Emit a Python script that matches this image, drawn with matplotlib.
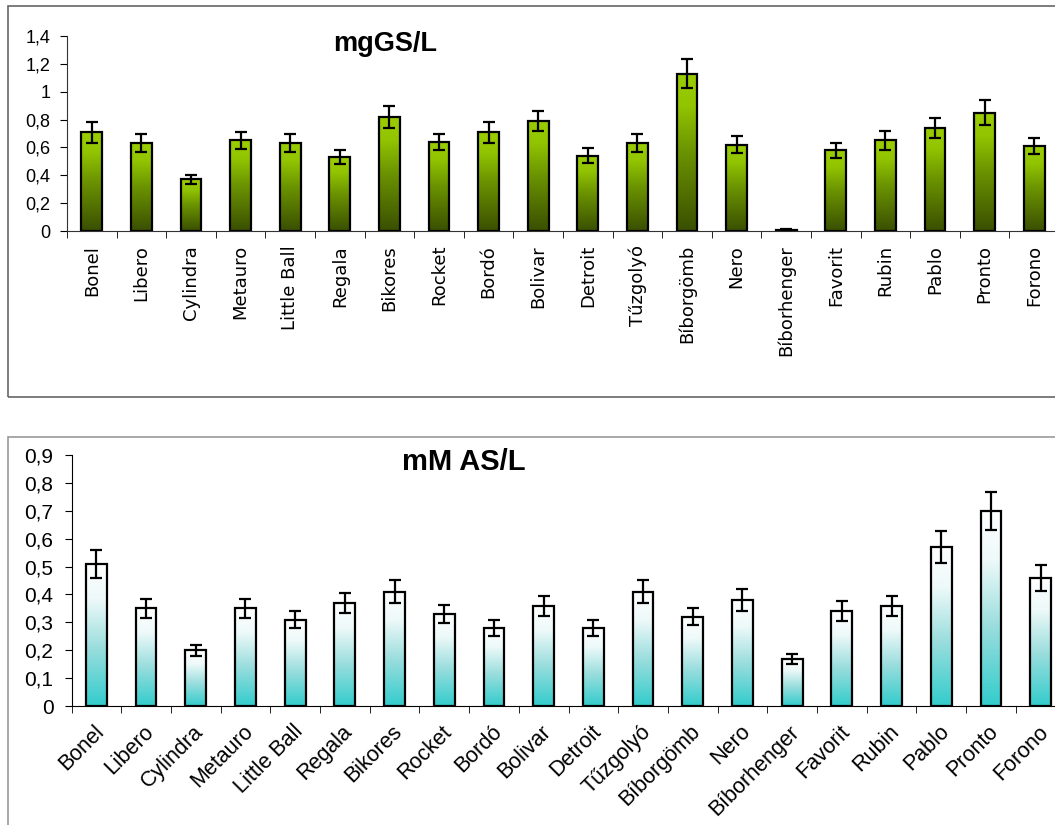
import matplotlib
matplotlib.use("Agg")
import matplotlib.pyplot as plt
import matplotlib.transforms as mtransforms
from matplotlib.colors import LinearSegmentedColormap
from matplotlib.patches import Rectangle
from matplotlib.ticker import FuncFormatter
import numpy as np

plt.rcParams['font.family'] = ['Liberation Sans', 'DejaVu Sans']

varieties = ["Bonel", "Libero", "Cylindra", "Metauro", "Little Ball", "Regala",
             "Bikores", "Rocket", "Bordó", "Bolivar", "Detroit", "Tűzgolyó",
             "Bíborgömb", "Nero", "Bíborhenger", "Favorit", "Rubin", "Pablo",
             "Pronto", "Forono"]

# glucosinolates, mg/L
gs_mean = [0.71, 0.63, 0.37, 0.65, 0.63, 0.53, 0.82, 0.64, 0.71, 0.79,
           0.54, 0.63, 1.13, 0.62, 0.01, 0.58, 0.65, 0.74, 0.85, 0.61]
gs_err = [0.075, 0.065, 0.035, 0.06, 0.065, 0.05, 0.08, 0.06, 0.075, 0.07,
          0.055, 0.065, 0.105, 0.06, 0.005, 0.055, 0.065, 0.07, 0.09, 0.055]

# ascorbic acid, mM/L
as_mean = [0.51, 0.35, 0.20, 0.35, 0.31, 0.37, 0.41, 0.33, 0.28, 0.36,
           0.28, 0.41, 0.32, 0.38, 0.17, 0.34, 0.36, 0.57, 0.70, 0.46]
as_err = [0.05, 0.035, 0.02, 0.035, 0.03, 0.036, 0.042, 0.032, 0.028, 0.036,
          0.03, 0.042, 0.031, 0.038, 0.018, 0.035, 0.036, 0.057, 0.068, 0.046]

green = LinearSegmentedColormap.from_list(
    "green", [(0, "#3a4f00"), (0.5, "#6b9300"), (0.8, "#92c500"), (1, "#9acd00")])
teal = LinearSegmentedColormap.from_list(
    "teal", [(0, "#33cccc"), (0.4, "#99dddd"), (0.75, "#eef9f9"), (1, "#ffffff")])

W, H = 1055, 825
fig = plt.figure(figsize=(W / 100, H / 100), dpi=100)


def comma(v, pos):
    return ("%g" % v).replace(".", ",")


def gradient_bars(ax, means, errs, cmap):
    x = np.arange(len(means))
    bars = ax.bar(x, means, width=0.42, facecolor="none", edgecolor="black",
                  linewidth=1.6, zorder=3)
    grad = np.linspace(1, 0, 256).reshape(-1, 1)
    for b in bars:
        x0, w, h = b.get_x(), b.get_width(), b.get_height()
        ax.imshow(grad, extent=[x0, x0 + w, 0, h], cmap=cmap, vmin=0, vmax=1,
                  aspect="auto", origin="upper", zorder=2, interpolation="bilinear")
    ax.errorbar(x, means, yerr=errs, fmt="none", ecolor="black", elinewidth=1.6,
                capsize=4, capthick=1.6, zorder=4)
    ax.set_xlim(-0.5, len(means) - 0.5)
    ax.set_xticks(x)
    ax.set_xticks(np.arange(-0.5, len(means), 1), minor=True)
    ax.tick_params(axis="x", which="major", length=0)
    ax.tick_params(axis="x", which="minor", length=5, direction="out")
    ax.tick_params(axis="y", length=5, direction="out")
    ax.spines["top"].set_visible(False)
    ax.spines["right"].set_visible(False)
    ax.yaxis.set_major_formatter(FuncFormatter(comma))
    return x


# panel frames
fig.add_artist(Rectangle((8 / W, 1 - 397 / H), 1.1, (397 - 6) / H,
                         transform=fig.transFigure, fill=False,
                         edgecolor="#666666", lw=1.2))
fig.add_artist(Rectangle((8 / W, -0.1), 1.1, 0.1 + 1 - 437 / H,
                         transform=fig.transFigure, fill=False,
                         edgecolor="#999999", lw=1.2))

# upper panel
ax1 = fig.add_axes([67 / W, 1 - 231 / H, 992 / W, (231 - 36) / H])
gradient_bars(ax1, gs_mean, gs_err, green)
ax1.set_ylim(0, 1.4)
ax1.set_yticks(np.arange(0, 1.41, 0.2))
ax1.set_xticklabels(varieties, rotation=90, ha="center", va="top",
                    family="DejaVu Sans", fontsize=13)
ax1.tick_params(axis="x", which="major", pad=10)
ax1.tick_params(axis="y", labelsize=13, pad=7)
for s in ax1.spines.values():
    s.set_color("#333333")
fig.text(385 / W, 1 - 44 / H, "mgGS/L", ha="center", va="center",
         fontsize=19.5, fontweight="bold")

# lower panel
ax2 = fig.add_axes([71.5 / W, 1 - 706 / H, 994 / W, (706 - 455) / H])
gradient_bars(ax2, as_mean, as_err, teal)
ax2.set_ylim(0, 0.9)
ax2.set_yticks(np.arange(0, 0.91, 0.1))
ax2.set_xticklabels(varieties, rotation=45, ha="right", va="top",
                    rotation_mode="anchor", fontsize=15.5)
ax2.tick_params(axis="x", which="major", pad=11)
ax2.tick_params(axis="y", labelsize=15, pad=8)
shift = mtransforms.ScaledTranslation(-3 / 100, 0, fig.dpi_scale_trans)
for lbl in ax2.get_xticklabels():
    lbl.set_transform(lbl.get_transform() + shift)
fig.text(464 / W, 1 - 462 / H, "mM AS/L", ha="center", va="center",
         fontsize=21, fontweight="bold")

fig.savefig("out.png", dpi=100)
